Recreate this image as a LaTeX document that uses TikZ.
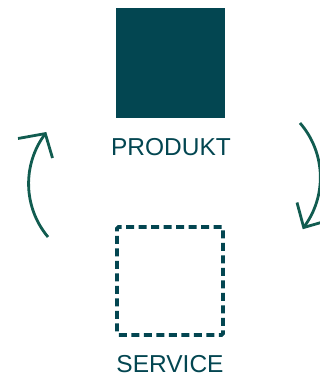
\documentclass[tikz,border=0pt]{standalone}
\usepackage{fontspec}
\setmainfont{Liberation Sans}
\definecolor{petrol}{HTML}{034651}
\definecolor{pine}{HTML}{115C50}
\begin{document}
\begin{tikzpicture}[x=1pt,y=-1pt,
  label text/.style={text=petrol,font=\fontsize{24.5}{26}\selectfont,inner sep=0pt,anchor=base},
  solid box/.style={fill=petrol,draw=none,minimum width=109pt,minimum height=110pt,inner sep=0pt},
  dashed box/.style={draw=petrol,line width=3.8pt,dash pattern=on 8pt off 4.5pt,
    rounded corners=1.5pt,minimum width=106pt,minimum height=108pt,inner sep=0pt},
  cycle arrow/.style={draw=pine,line width=2.8pt},
  barb/.style={draw=pine,line width=2.8pt,line join=miter}]
\useasboundingbox (0,0) rectangle (320,377);
% product: filled square with its label
\node[solid box] (produkt) at (170.5,63) {};
\node[label text] (produktlabel) at (171,155.5) {PRODUKT};
% service: dashed square with its label
\node[dashed box] (service) at (170,281) {};
\node[label text] (servicelabel) at (170,372.5) {SERVICE};
% left cycle arrow, running upwards
\coordinate (leftstart) at (48,237);
\coordinate (lefttip) at (45.3,133.6);
\coordinate (leftbarbA) at (18,138.5);
\coordinate (leftbarbB) at (52.5,158);
\draw[cycle arrow] (leftstart) arc[start angle=140,end angle=217,radius=83];
\draw[barb] (leftbarbA) -- (lefttip) -- (leftbarbB);
% right cycle arrow, running downwards
\coordinate (rightstart) at (300,123);
\coordinate (righttip) at (303.7,227.5);
\coordinate (rightbarbA) at (297,202.5);
\coordinate (rightbarbB) at (328,220.5);
\draw[cycle arrow] (rightstart) arc[start angle=-41,end angle=37,radius=83];
\draw[barb] (rightbarbA) -- (righttip) -- (rightbarbB);
\end{tikzpicture}
\end{document}
